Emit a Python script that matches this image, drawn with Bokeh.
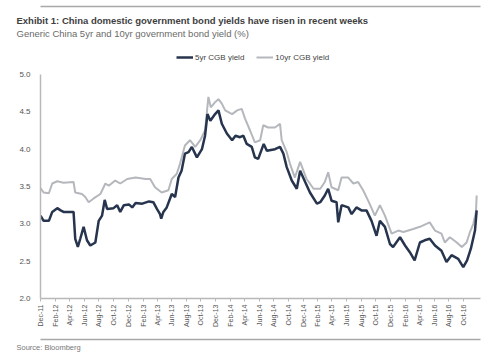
import math
import pandas as pd
from bokeh.plotting import figure
from bokeh.models import (ColumnDataSource, Range1d, FixedTicker, DatetimeTickFormatter,
                          NumeralTickFormatter, Legend, LegendItem, Title, LinearAxis,
                          CustomJSTickFormatter)
from bokeh.embed import file_html
from bokeh.resources import INLINE

# ---------------- data ----------------
title_text = "Exhibit 1: China domestic government bond yields have risen in recent weeks"
subtitle_text = "Generic China 5yr and 10yr government bond yield (%)"
source_text = "Source: Bloomberg"
series_names = ["5yr CGB yield", "10yr CGB yield"]

dates_5yr = ["2011-12-01", "2011-12-14", "2012-01-05", "2012-01-19", "2012-02-09", "2012-02-23",
             "2012-03-06", "2012-04-17", "2012-04-24", "2012-05-05", "2012-05-15", "2012-05-29",
             "2012-06-12", "2012-06-26", "2012-07-17", "2012-07-31", "2012-08-14", "2012-08-25",
             "2012-09-04", "2012-10-01", "2012-10-16", "2012-10-29", "2012-11-13", "2012-12-04",
             "2012-12-18", "2013-01-01", "2013-01-29", "2013-02-26", "2013-03-16", "2013-03-31",
             "2013-04-13", "2013-04-18", "2013-04-27", "2013-05-11", "2013-06-01", "2013-06-15",
             "2013-06-29", "2013-07-12", "2013-07-26", "2013-08-10", "2013-08-24", "2013-09-14",
             "2013-10-05", "2013-10-18", "2013-10-28", "2013-11-09", "2013-11-29", "2013-12-13",
             "2013-12-27", "2014-01-17", "2014-02-08", "2014-02-22", "2014-03-13", "2014-03-27",
             "2014-04-10", "2014-05-01", "2014-05-14", "2014-05-28", "2014-06-20", "2014-07-03",
             "2014-08-06", "2014-08-27", "2014-09-10", "2014-09-24", "2014-10-15", "2014-11-05",
             "2014-11-19", "2014-12-10", "2014-12-30", "2015-01-28", "2015-02-11", "2015-03-02",
             "2015-03-16", "2015-03-30", "2015-04-20", "2015-04-27", "2015-05-11", "2015-06-08",
             "2015-06-22", "2015-07-12", "2015-08-02", "2015-08-23", "2015-09-13", "2015-10-04",
             "2015-10-18", "2015-11-08", "2015-11-29", "2015-12-12", "2016-01-10", "2016-01-31",
             "2016-02-20", "2016-03-11", "2016-04-02", "2016-04-22", "2016-05-13", "2016-06-04",
             "2016-07-01", "2016-07-22", "2016-08-12", "2016-09-09", "2016-09-30", "2016-10-16",
             "2016-11-01", "2016-11-18", "2016-11-25"]
yield_5yr = [3.11, 3.04, 3.04, 3.16, 3.21, 3.18,
             3.16, 3.16, 2.80, 2.69, 2.80, 2.96,
             2.78, 2.71, 2.75, 3.04, 3.11, 3.32,
             3.20, 3.21, 3.25, 3.16, 3.25, 3.26,
             3.22, 3.28, 3.27, 3.30, 3.29, 3.20,
             3.13, 3.07, 3.16, 3.22, 3.40, 3.36,
             3.62, 3.71, 3.94, 3.96, 4.03, 3.89,
             4.00, 4.18, 4.47, 4.38, 4.47, 4.52,
             4.34, 4.21, 4.12, 4.18, 4.16, 4.18,
             4.07, 4.03, 3.89, 3.87, 4.07, 3.98,
             4.00, 4.03, 3.94, 3.76, 3.58, 3.47,
             3.71, 3.56, 3.42, 3.27, 3.29, 3.38,
             3.47, 3.31, 3.29, 3.02, 3.25, 3.22,
             3.13, 3.22, 3.18, 3.18, 3.04, 2.84,
             3.04, 2.96, 2.73, 2.69, 2.82, 2.71,
             2.62, 2.51, 2.75, 2.78, 2.80, 2.71,
             2.64, 2.49, 2.58, 2.53, 2.42, 2.51,
             2.67, 2.91, 3.18]

dates_10yr = ["2011-12-01", "2011-12-14", "2012-01-05", "2012-01-19", "2012-02-09", "2012-03-06",
              "2012-04-17", "2012-04-24", "2012-05-22", "2012-06-05", "2012-06-19", "2012-07-10",
              "2012-08-07", "2012-08-28", "2012-09-11", "2012-10-08", "2012-10-29", "2012-11-27",
              "2013-01-01", "2013-02-12", "2013-03-03", "2013-03-23", "2013-04-20", "2013-05-18",
              "2013-06-01", "2013-06-22", "2013-07-05", "2013-07-26", "2013-08-16", "2013-09-07",
              "2013-09-28", "2013-10-18", "2013-11-01", "2013-11-11", "2013-11-29", "2013-12-13",
              "2013-12-27", "2014-01-10", "2014-02-08", "2014-03-01", "2014-03-20", "2014-04-03",
              "2014-04-24", "2014-05-14", "2014-06-05", "2014-06-18", "2014-07-08", "2014-08-06",
              "2014-08-27", "2014-09-03", "2014-09-24", "2014-10-08", "2014-10-28", "2014-11-19",
              "2014-12-16", "2015-01-14", "2015-02-11", "2015-03-02", "2015-03-16", "2015-03-30",
              "2015-04-27", "2015-05-11", "2015-06-08", "2015-06-29", "2015-07-19", "2015-08-09",
              "2015-08-30", "2015-09-27", "2015-10-18", "2015-11-08", "2015-12-06", "2016-01-03",
              "2016-01-24", "2016-03-05", "2016-04-02", "2016-05-13", "2016-06-04", "2016-07-01",
              "2016-07-15", "2016-08-05", "2016-09-03", "2016-09-24", "2016-10-14", "2016-10-28",
              "2016-11-11", "2016-11-22", "2016-11-25"]
yield_10yr = [3.48, 3.42, 3.41, 3.54, 3.57, 3.55,
              3.56, 3.42, 3.40, 3.36, 3.29, 3.34,
              3.40, 3.54, 3.51, 3.58, 3.54, 3.60,
              3.62, 3.60, 3.60, 3.49, 3.42, 3.45,
              3.60, 3.67, 3.80, 4.05, 4.12, 4.03,
              4.12, 4.25, 4.70, 4.56, 4.63, 4.67,
              4.61, 4.52, 4.47, 4.52, 4.54, 4.41,
              4.25, 4.09, 4.12, 4.32, 4.29, 4.29,
              4.34, 4.12, 3.96, 3.80, 3.62, 3.83,
              3.60, 3.47, 3.47, 3.56, 3.69, 3.49,
              3.45, 3.62, 3.62, 3.54, 3.56, 3.45,
              3.31, 3.11, 3.25, 3.11, 2.87, 2.91,
              2.89, 2.93, 2.96, 3.02, 2.91, 2.87,
              2.75, 2.82, 2.75, 2.69, 2.75, 2.89,
              3.00, 3.16, 3.38]

tick_labels = ["Dec-11", "Feb-12", "Apr-12", "Jun-12", "Aug-12", "Oct-12",
               "Dec-12", "Feb-13", "Apr-13", "Jun-13", "Aug-13", "Oct-13",
               "Dec-13", "Feb-14", "Apr-14", "Jun-14", "Aug-14", "Oct-14",
               "Dec-14", "Feb-15", "Apr-15", "Jun-15", "Aug-15", "Oct-15",
               "Dec-15", "Feb-16", "Apr-16", "Jun-16", "Aug-16", "Oct-16"]
y_ticks = [2.0, 2.5, 3.0, 3.5, 4.0, 4.5, 5.0]
y_axis_bounds = (2.0, 5.0)
x_start = "2011-12-01"
x_end = "2016-12-11"

# ---------------- style / layout ----------------
C5 = "#27344d"
C10 = "#b4b7bc"
AXIS_C = "#b8b8b8"
RULE_C = "#a8a8a8"
LABEL_C = "#555555"
FONT = "Liberation Sans"
W, H = 499, 354
FRAME_L, FRAME_R, FRAME_B = 40, 480, 298
AXIS_TOP = 74           # pixel row of the 5.0 tick
FRAME_T = 48            # frame extends above the axis to hold the legend
px_per_unit = (FRAME_B - AXIS_TOP) / (y_axis_bounds[1] - y_axis_bounds[0])
y_top = y_axis_bounds[1] + (AXIS_TOP - FRAME_T) / px_per_unit
FH = FRAME_B - FRAME_T

src5 = ColumnDataSource(dict(date=pd.to_datetime(dates_5yr), y=yield_5yr))
src10 = ColumnDataSource(dict(date=pd.to_datetime(dates_10yr), y=yield_10yr))

p = figure(width=W, height=H, x_axis_type="datetime",
           x_range=Range1d(pd.Timestamp(x_start), pd.Timestamp(x_end)),
           y_range=Range1d(y_axis_bounds[0], y_top), toolbar_location=None,
           output_backend="svg",
           min_border_left=FRAME_L, min_border_right=W - FRAME_R,
           min_border_top=FRAME_T, min_border_bottom=H - FRAME_B,
           outline_line_color=None)
p.xgrid.visible = False
p.ygrid.visible = False

r10 = p.line("date", "y", source=src10, line_color=C10, line_width=2)
r5 = p.line("date", "y", source=src5, line_color=C5, line_width=2.5)

xax = p.xaxis[0]
yax = p.yaxis[0]
tick_dates = pd.to_datetime(tick_labels, format="%b-%y")
tick_ms = [t.timestamp() * 1000 for t in tick_dates]
fmt = "%b-%y"
xax.ticker = FixedTicker(ticks=tick_ms)
xax.formatter = DatetimeTickFormatter(microseconds=fmt, milliseconds=fmt, seconds=fmt,
                                      minsec=fmt, minutes=fmt, hourmin=fmt, hours=fmt,
                                      days=fmt, months=fmt, years=fmt)
xax.major_label_orientation = math.pi / 2
yax.ticker = FixedTicker(ticks=y_ticks)
yax.formatter = NumeralTickFormatter(format="0.0")
yax.bounds = y_axis_bounds

for ax in (xax, yax):
    ax.axis_line_color = AXIS_C
    ax.axis_line_width = 1.5
    ax.major_tick_line_color = AXIS_C
    ax.major_tick_in = 0
    ax.major_tick_out = 3
    ax.minor_tick_line_color = None
    ax.major_label_text_font = FONT
    ax.major_label_text_color = LABEL_C
xax.major_label_text_font_size = "7px"
yax.major_label_text_font_size = "8px"
xax.major_label_standoff = 3
yax.major_label_standoff = 7
yax.major_tick_line_color = None


def plain_axis(line_color, extent):
    """An axis with one blank tick at the frame's left edge: a horizontal rule
    (line only) or a blank spacer whose size comes from major_tick_out."""
    return LinearAxis(ticker=FixedTicker(ticks=[tick_ms[0]]),
                      formatter=CustomJSTickFormatter(code="return ''"),
                      axis_line_color=line_color, axis_line_width=1.5,
                      major_tick_in=0, major_tick_out=extent,
                      major_tick_line_color="white", minor_tick_line_color=None,
                      major_label_standoff=0)


# ---------------- legend inside the (extended) frame ----------------
legend = Legend(items=[LegendItem(label=series_names[0], renderers=[r5]),
                       LegendItem(label=series_names[1], renderers=[r10])],
                location=(176 - FRAME_L, FH - (57 - FRAME_T) - 6), orientation="horizontal",
                glyph_width=17, glyph_height=12, label_height=12, label_standoff=2,
                spacing=12, padding=0, margin=0, border_line_color=None,
                background_fill_alpha=0, label_text_font_size="8px",
                label_text_color="#444444", label_text_font=FONT)
p.add_layout(legend)

# ---------------- above the frame: spacer, subtitle, title, spacer, rule ----------------
p.add_layout(plain_axis(None, 10), "above")
p.add_layout(Title(text=subtitle_text, align="left", offset=16 - FRAME_L, standoff=0,
                   text_font=FONT, text_font_size="9.5px", text_font_style="normal",
                   text_color="#6a6a6a"), "above")
p.add_layout(Title(text=title_text, align="left", offset=16 - FRAME_L, standoff=0,
                   text_font=FONT, text_font_size="9.5px", text_font_style="bold",
                   text_color="#404040"), "above")
p.add_layout(plain_axis(None, 6), "above")
p.add_layout(plain_axis(RULE_C, 0), "above")

# ---------------- below the frame: spacer, rule, source ----------------
p.add_layout(plain_axis(None, 9), "below")
p.add_layout(plain_axis(RULE_C, 0), "below")
p.add_layout(Title(text=source_text, align="left", offset=16 - FRAME_L, standoff=2,
                   text_font=FONT, text_font_size="7.5px", text_font_style="normal",
                   text_color="#777777"), "below")

open("out.html", "w").write(file_html(p, INLINE))
